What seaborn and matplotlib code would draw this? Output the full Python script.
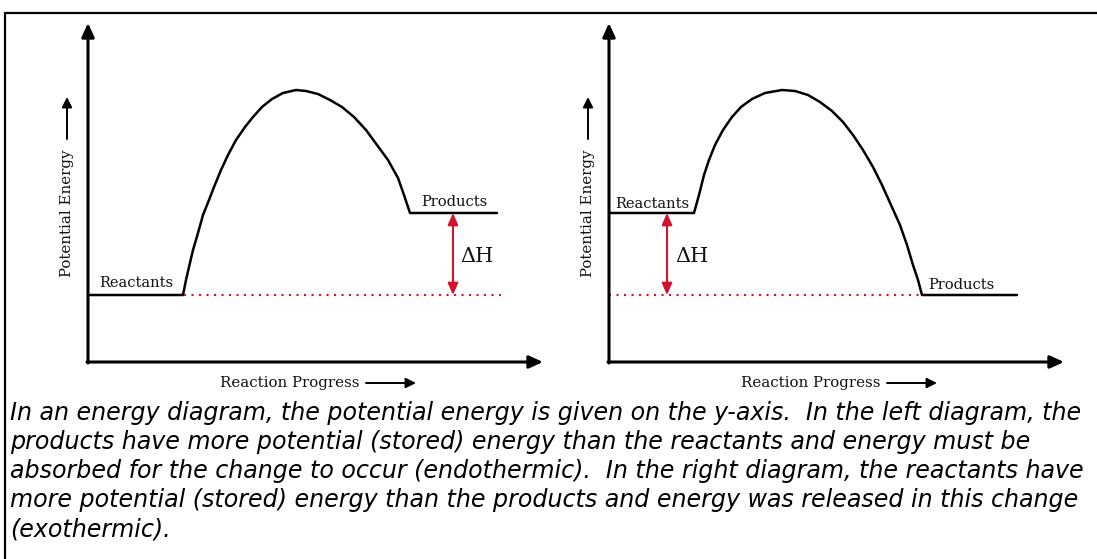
# -*- coding: utf-8 -*-
"""
Energy diagrams: endothermic (left) vs exothermic (right)
"""
import matplotlib
matplotlib.use("Agg")
import matplotlib.pyplot as plt
import seaborn as sns
import numpy as np
import pandas as pd
from matplotlib.patches import Rectangle

# ---- data (panel units: 1 unit ~ 1 px, origin at the axes corner) ----
levels = {"low": 67, "high": 149}

# left diagram (endothermic): reactants low -> barrier -> products high
left_x = [0, 95, 98, 101, 105, 110, 115, 121, 126, 133, 140, 148, 157, 165, 174,
          184, 195, 208, 218, 230, 242, 254, 266, 278, 289, 300, 310, 316, 322, 409]
left_y = [67, 67, 82, 95, 112, 129, 147, 162, 175, 192, 207, 222, 235, 245, 255,
          263, 269, 272, 271, 268, 262, 255, 245, 232, 217, 202, 184, 167, 149, 149]

# right diagram (exothermic): reactants high -> barrier -> products low
right_x = [0, 85, 90, 95, 100, 106, 114, 123, 132, 143, 156, 173, 186, 199, 211,
           223, 234, 244, 254, 264, 273, 282, 291, 298, 304, 309, 313, 408]
right_y = [149, 149, 167, 187, 202, 217, 232, 245, 255, 263, 269, 272, 271, 267, 260,
           251, 240, 227, 212, 195, 177, 157, 137, 117, 97, 82, 67, 67]

dotted_span = {"left": (96, 414), "right": (0, 313)}
dh_arrow_x = {"left": 365, "right": 58}

caption = [
    "In an energy diagram, the potential energy is given on the y-axis.  In the left diagram, the",
    "products have more potential (stored) energy than the reactants and energy must be",
    "absorbed for the change to occur (endothermic).  In the right diagram, the reactants have",
    "more potential (stored) energy than the products and energy was released in this change",
    "(exothermic).",
]

W, H = 1097, 559
RED = "#d3132e"

sns.set_theme(style="white")
fig = plt.figure(figsize=(W / 100, H / 100), dpi=100)
fig.patch.set_facecolor("white")


def draw_panel(left_px, xs, ys, side, labels):
    ax = fig.add_axes([left_px / W, (H - 362) / H, 470 / W, 350 / H])
    ax.set_xlim(0, 470)
    ax.set_ylim(0, 350)
    ax.axis("off")

    df = pd.DataFrame({"x": xs, "y": ys})
    sns.lineplot(data=df, x="x", y="y", sort=False, estimator=None,
                 color="black", lw=1.8, ax=ax)

    # dotted reference at the lower level
    x0, x1 = dotted_span[side]
    ax.plot([x0, x1], [levels["low"], levels["low"]], color=RED, lw=1.5,
            ls=(0, (1, 2.6)))

    # delta H double arrow
    ax.annotate("", xy=(dh_arrow_x[side], levels["high"]),
                xytext=(dh_arrow_x[side], levels["low"]),
                arrowprops=dict(arrowstyle="<|-|>,head_length=0.5,head_width=0.22",
                                color=RED, lw=1.5, shrinkA=0, shrinkB=0,
                                mutation_scale=14))

    # axes with arrows
    ap = dict(arrowstyle="-|>,head_length=0.55,head_width=0.25", color="black",
              lw=2.2, shrinkA=0, shrinkB=0, mutation_scale=15)
    ax.annotate("", xy=(455, 0), xytext=(-1, 0), arrowprops=ap, annotation_clip=False)
    ax.annotate("", xy=(0, 339), xytext=(0, -1), arrowprops=ap, annotation_clip=False)

    serif = dict(family="DejaVu Serif", color="#111111")
    for txt, x, y, size in labels:
        ax.text(x, y, txt, ha="center", va="center", fontsize=size, **serif)

    # axis titles with their little arrows
    ax.text(-21, 149, "Potential Energy", rotation=90, ha="center", va="center",
            fontsize=10.8, **serif)
    sm = dict(arrowstyle="-|>,head_length=0.6,head_width=0.3", color="black",
              lw=1.4, shrinkA=0, shrinkB=0, mutation_scale=10)
    ax.annotate("", xy=(-21, 265), xytext=(-21, 223), arrowprops=sm,
                annotation_clip=False)
    ax.text(202, -21, "Reaction Progress", ha="center", va="center",
            fontsize=10.8, **serif)
    ax.annotate("", xy=(328, -21), xytext=(278, -21), arrowprops=sm,
                annotation_clip=False)
    return ax


draw_panel(88, left_x, left_y, "left", [
    ("Reactants", 48.5, 79, 10.5),
    ("Products", 366.5, 160, 10.5),
    ("\u0394H", 388.5, 105, 15),
])
draw_panel(609, right_x, right_y, "right", [
    ("Reactants", 43.5, 158, 10.5),
    ("Products", 352.5, 77, 10.5),
    ("\u0394H", 82.5, 105, 15),
])

# caption lines
for i, line in enumerate(caption):
    fig.text(10 / W, 1 - (413 + 29 * i) / H, line, ha="left", va="center",
             fontsize=17.1, style="italic", family="DejaVu Sans", color="black")

# frame around the whole thing (open to the right/bottom edge)
fig.patches.append(Rectangle((5 / W, -0.1), 1.2, 1.1 - 13 / H,
                             transform=fig.transFigure, fill=False,
                             lw=1.6, edgecolor="black"))

fig.savefig("out.png", dpi=100)
